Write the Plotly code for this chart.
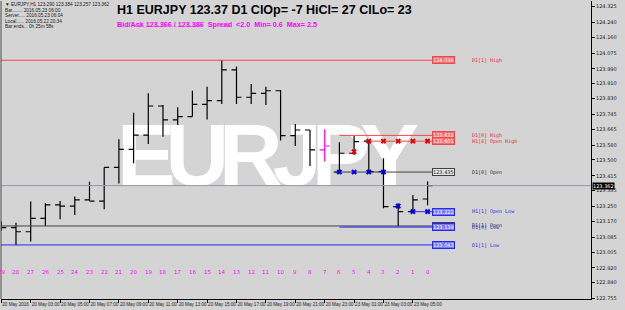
import plotly.graph_objects as go

# ---------------- data ----------------
bar_numbers = list(range(29, -1, -1))
positions = list(range(30))
opens = [123.150, 123.136, 123.114, 123.186, 123.258, 123.252, 123.285, 123.279, 123.460, 123.557,
         123.634, 123.790, 123.715, 123.733, 123.799, 123.819, 123.984, 123.837, 123.858, 123.872,
         123.631, 123.661, 123.554, 123.435, 123.536, 123.601, 123.437, 123.249, 123.222, 123.290]
highs = [123.170, 123.163, 123.276, 123.267, 123.279, 123.303, 123.383, 123.460, 123.611, 123.754,
         123.858, 123.795, 123.783, 123.872, 123.894, 124.036, 124.002, 123.908, 123.894, 123.876,
         123.693, 123.661, 123.665, 123.595, 123.632, 123.607, 123.509, 123.267, 123.312, 123.384]
lows = [123.120, 123.043, 123.061, 123.145, 123.181, 123.204, 123.279, 123.235, 123.374, 123.482,
        123.586, 123.625, 123.688, 123.733, 123.718, 123.801, 123.801, 123.801, 123.795, 123.604,
        123.575, 123.467, 123.491, 123.432, 123.527, 123.428, 123.240, 123.142, 123.222, 123.257]
closes = [123.136, 123.114, 123.186, 123.258, 123.252, 123.285, 123.279, 123.460, 123.557, 123.634,
          123.790, 123.715, 123.733, 123.799, 123.819, 123.984, 123.837, 123.858, 123.872, 123.631,
          123.661, 123.554, 123.575, 123.536, 123.598, 123.437, 123.249, 123.222, 123.285, 123.362]
highlight_bar = 22  # last bar of Friday drawn in magenta

x_tick_pos = [0, 2, 4, 6, 8, 10, 12, 14, 16, 18, 20, 22, 24, 26, 28]
x_tick_text = ["20 May 2016", "20 May 03:00", "20 May 05:00", "20 May 07:00", "20 May 09:00",
               "20 May 11:00", "20 May 13:00", "20 May 15:00", "20 May 17:00", "20 May 19:00",
               "20 May 21:00", "20 May 23:00", "23 May 01:00", "23 May 03:00", "23 May 05:00"]

y_tick_vals = [124.325, 124.240, 124.160, 124.075, 123.990, 123.910, 123.830, 123.745, 123.665,
               123.580, 123.500, 123.415, 123.335, 123.250, 123.170, 123.085, 123.005, 122.920,
               122.840, 122.755]
y_tick_text = ["%.3f" % v for v in y_tick_vals]

current_price = 123.362

# level lines: name, price, start position, colour key
level_names = ["D1[1] High", "D1[0] High", "H1[4] Open High", "D1[0] Open", "H1[1] Open Low",
               "D1[1] Open", "D1[0] Low", "D1[1] Low"]
level_prices = [124.036, 123.632, 123.601, 123.435, 123.222, 123.145, 123.139, 123.043]
level_labels = ["124.036", "123.632", "123.601", "123.435", "123.222", "123.145", "123.139", "123.043"]
level_starts = [-1, 23, 25, 22.6, 28, -1, 23, -1]
level_kinds = ["red", "red", "red", "dark", "blue", "dark", "blue", "blue"]

red_marks_x = [25, 26, 27, 28, 29]
red_marks_y = [123.601] * 5
red_extra_x = [24]
red_extra_y = [123.544]
blue_marks_x = [23, 24, 25, 26, 27, 28, 29]
blue_marks_y = [123.435, 123.435, 123.435, 123.435, 123.252, 123.222, 123.222]

watermark_letters = ["E", "U", "R", "J", "P", "Y"]
watermark_x = [9.87, 13.34, 16.98, 20.13, 23.11, 26.42]
watermark_y = 123.572

# ---------------- styling ----------------
BG = "#d4d4d4"
line_cols = {"red": "#f04848", "blue": "#2828f0", "dark": "#404040"}
box_bg = {"red": "#f07070", "blue": "#7878f0", "dark": "#e6e6e6"}
box_fg = {"red": "white", "blue": "white", "dark": "#202020"}
txt_col = {"red": "#e03030", "blue": "#3030e0", "dark": "#303030"}

PX = 14.7
X0 = -0.02
X1 = X0 + 590 / PX
Y_TOP = 124.3546
Y_BOT = 122.7524

fig = go.Figure()

# current price line
fig.add_trace(go.Scatter(x=[X0 - 1, X1 + 1], y=[current_price, current_price], mode="lines",
                         line=dict(color="#8d9aad", width=1), hoverinfo="skip", showlegend=False))

# level lines
for name, p, s, k in zip(level_names, level_prices, level_starts, level_kinds):
    fig.add_trace(go.Scatter(x=[s, 29.3], y=[p, p], mode="lines",
                             line=dict(color=line_cols[k], width=1),
                             hoverinfo="skip", showlegend=False))

# OHLC bars
norm_idx = [i for i in positions if i != highlight_bar]
fig.add_trace(go.Ohlc(
    x=[positions[i] for i in norm_idx], open=[opens[i] for i in norm_idx],
    high=[highs[i] for i in norm_idx], low=[lows[i] for i in norm_idx],
    close=[closes[i] for i in norm_idx],
    increasing=dict(line=dict(color="black", width=1.2)),
    decreasing=dict(line=dict(color="black", width=1.2)),
    tickwidth=0.34, hoverinfo="skip", showlegend=False))
fig.add_trace(go.Ohlc(
    x=[positions[highlight_bar]], open=[opens[highlight_bar]], high=[highs[highlight_bar]],
    low=[lows[highlight_bar]], close=[closes[highlight_bar]],
    increasing=dict(line=dict(color="#ff00ff", width=1.2)),
    decreasing=dict(line=dict(color="#ff00ff", width=1.2)),
    tickwidth=0.34, hoverinfo="skip", showlegend=False))

# markers
fig.add_trace(go.Scatter(x=red_marks_x + red_extra_x, y=red_marks_y + red_extra_y, mode="markers",
                         marker=dict(symbol="x", size=5, color="#e00000", line=dict(width=0)),
                         hoverinfo="skip", showlegend=False))
fig.add_trace(go.Scatter(x=blue_marks_x, y=blue_marks_y, mode="markers",
                         marker=dict(symbol="x", size=5, color="#0000e0", line=dict(width=0)),
                         hoverinfo="skip", showlegend=False))

# watermark letters as shape labels, drawn below all traces
shapes = [dict(type="line", xref="paper", yref="paper", x0=0, x1=0, y0=0, y1=1,
               line=dict(color="#505050", width=1))]
for ch, cx in zip(watermark_letters, watermark_x):
    shapes.append(dict(type="rect", xref="x", yref="y", x0=cx - 1.5, x1=cx + 1.5,
                       y0=watermark_y - 0.2, y1=watermark_y + 0.2, layer="below",
                       line=dict(width=0), fillcolor="rgba(0,0,0,0)",
                       label=dict(text=ch, textposition="middle center",
                                  font=dict(family="Liberation Sans", size=88, color="white",
                                            weight="bold"))))

annotations = []
# level boxes and names
for name, p, lab, k in zip(level_names, level_prices, level_labels, level_kinds):
    annotations.append(dict(x=29.3, y=p, xref="x", yref="y", text=lab, showarrow=False,
                            xanchor="left", yanchor="middle", bgcolor=box_bg[k],
                            bordercolor=line_cols[k], borderwidth=1, borderpad=0,
                            font=dict(family="DejaVu Sans", size=5, color=box_fg[k])))
    annotations.append(dict(x=31.9, y=p, xref="x", yref="y", text=name, showarrow=False,
                            xanchor="left", yanchor="middle",
                            font=dict(family="DejaVu Sans Mono", size=5, color=txt_col[k])))

# current price box on axis
annotations.append(dict(x=1, y=current_price, xref="paper", yref="y", text=str(current_price),
                        showarrow=False, xanchor="left", yanchor="middle", xshift=1,
                        bgcolor="black", borderpad=0,
                        font=dict(family="DejaVu Sans", size=5, color="white")))

# bar number labels
for pos, n in zip(positions, bar_numbers):
    annotations.append(dict(x=pos, y=(299 - 272) / 298, xref="x", yref="paper", text=str(n),
                            showarrow=False, xanchor="center", yanchor="middle",
                            font=dict(family="DejaVu Sans", size=5.5, color="#ff00ff")))

# info block top-left
info_lines = ["\u25bc EURJPY,H1 123.290 123.384 123.257 123.362",
              "Bar........ 2016.05.23 06:00",
              "Server..... 2016.05.23 06:04",
              "Local...... 2016.05.22 20:34",
              "Bar ends... 0h 25m 58s"]
info_y = [5, 11, 16, 21, 27]
for t, yy in zip(info_lines, info_y):
    annotations.append(dict(x=(3 - 1) / 590, y=(299 - yy) / 298, xref="paper", yref="paper",
                            text=t, showarrow=False, xanchor="left", yanchor="middle",
                            font=dict(family="Liberation Sans", size=4.7, color="#202020")))

annotations.append(dict(x=(115 - 1) / 590, y=(299 - 10) / 298, xref="paper", yref="paper",
                        text="<b>H1 EURJPY 123.37 D1 ClOp= -7 HiCl= 27 ClLo= 23</b>",
                        showarrow=False, xanchor="left", yanchor="middle",
                        font=dict(family="Liberation Sans", size=12.5, color="black")))
annotations.append(dict(x=(115 - 1) / 590, y=(299 - 24) / 298, xref="paper", yref="paper",
                        text="<b>Bid/Ask 123.366 / 123.386  Spread  &lt;2.0  Min= 0.6  Max= 2.5</b>",
                        showarrow=False, xanchor="left", yanchor="middle",
                        font=dict(family="Liberation Sans", size=7.2, color="#ff00ff")))

fig.update_layout(
    width=625, height=310,
    margin=dict(l=1, r=34, t=1, b=11, pad=0, autoexpand=False),
    paper_bgcolor=BG, plot_bgcolor=BG,
    showlegend=False,
    annotations=annotations,
    shapes=shapes,
    xaxis=dict(range=[X0, X1], tickvals=x_tick_pos, ticktext=x_tick_text, tickangle=0,
               ticks="outside", ticklen=3, tickcolor="black", ticklabelposition="outside right",
               tickfont=dict(family="Liberation Sans", size=4.6, color="#202020"),
               showgrid=False, zeroline=False, showline=True, linecolor="black", linewidth=1,
               rangeslider=dict(visible=False), fixedrange=True, automargin=False),
    yaxis=dict(range=[Y_BOT, Y_TOP], side="right", tickvals=y_tick_vals, ticktext=y_tick_text,
               ticks="outside", ticklen=3, tickcolor="black",
               tickfont=dict(family="DejaVu Sans", size=5, color="#202020"),
               showgrid=False, zeroline=False, showline=True, linecolor="black", linewidth=1,
               fixedrange=True, automargin=False),
)

fig.write_html("out.html")
